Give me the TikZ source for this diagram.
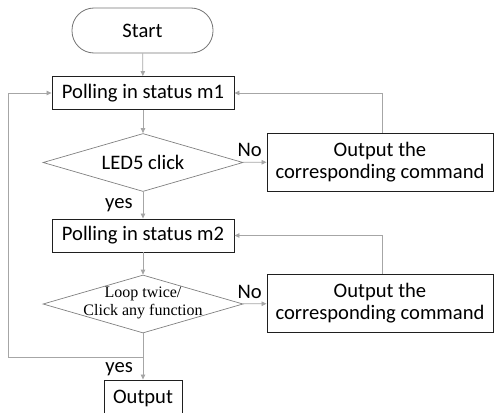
\documentclass[tikz,border=0pt]{standalone}
\usepackage{fontspec}
\setmainfont{Carlito}
\newfontfamily\tms{Liberation Serif}
\usetikzlibrary{shapes.geometric,arrows.meta}
\begin{document}
\begin{tikzpicture}[x=1pt,y=-1pt,
 txt/.style={font=\fontsize{20.6}{22}\selectfont},
 term/.style={txt,draw=black!55,line width=0.8pt,rounded corners=22pt,minimum width=141pt,minimum height=45pt,inner sep=0pt},
 box/.style={txt,draw=black!88,line width=0.9pt,minimum width=182pt,minimum height=33pt,inner sep=0pt},
 obox/.style={txt,draw=black!88,line width=0.9pt,minimum width=226pt,minimum height=58pt,inner sep=0pt,align=center},
 dia/.style={diamond,draw=black!50,line width=0.7pt,minimum width=200pt,minimum height=58pt,inner sep=0pt,shape aspect=3.4},
 conn/.style={draw=black!35,line width=0.8pt,-{Triangle[length=5pt,width=4.5pt]}},
 lab/.style={txt,inner sep=0pt}
]
\useasboundingbox (0,0) rectangle (494,412);
\clip (0,0) rectangle (494,412);
\node[term] (start) at (142.5,30.5) {Start};
\node[box] (p1) at (143,93) {Polling in status m1};
\node[dia,txt] (d1) at (143,162.5) {LED5 click};
\node[obox] (o1) at (380,162) {Output the\\corresponding command};
\node[box] (p2) at (143,235.5) {Polling in status m2};
\node[dia,label={[font=\tms\fontsize{16}{18}\selectfont,align=center,inner sep=0pt,yshift=1pt]center:{Loop twice/\\Click any function}}] (d2) at (143,304) {};
\node[obox] (o2) at (380,303.5) {Output the\\corresponding command};
\node[box,minimum width=78pt,minimum height=36pt] (out) at (143,398) {Output};
\coordinate (j) at (143,357);
\coordinate (lft) at (8,0);

\draw[conn] (start) -- (p1);
\draw[conn] (p1) -- (d1);
\draw[conn] (d1) -- node[lab,left=10pt] {yes} (p2);
\draw[conn] (d1) -- node[lab,above=5pt,xshift=-5pt] {No} (o1);
\draw[conn] ([xshift=2pt]o1.north) |- (p1.east);
\draw[conn] (p2) -- (d2);
\draw[conn] (d2) -- node[lab,above=5pt,xshift=-5pt] {No} (o2);
\draw[conn] ([xshift=2pt]o2.north) |- (p2.east);
\draw[conn] (d2) -- (out);
\draw[conn] (j) -- (j -| lft) |- (p1.west);
\node[lab,anchor=east] (yes2) at (133,369) {yes};
\end{tikzpicture}
\end{document}
